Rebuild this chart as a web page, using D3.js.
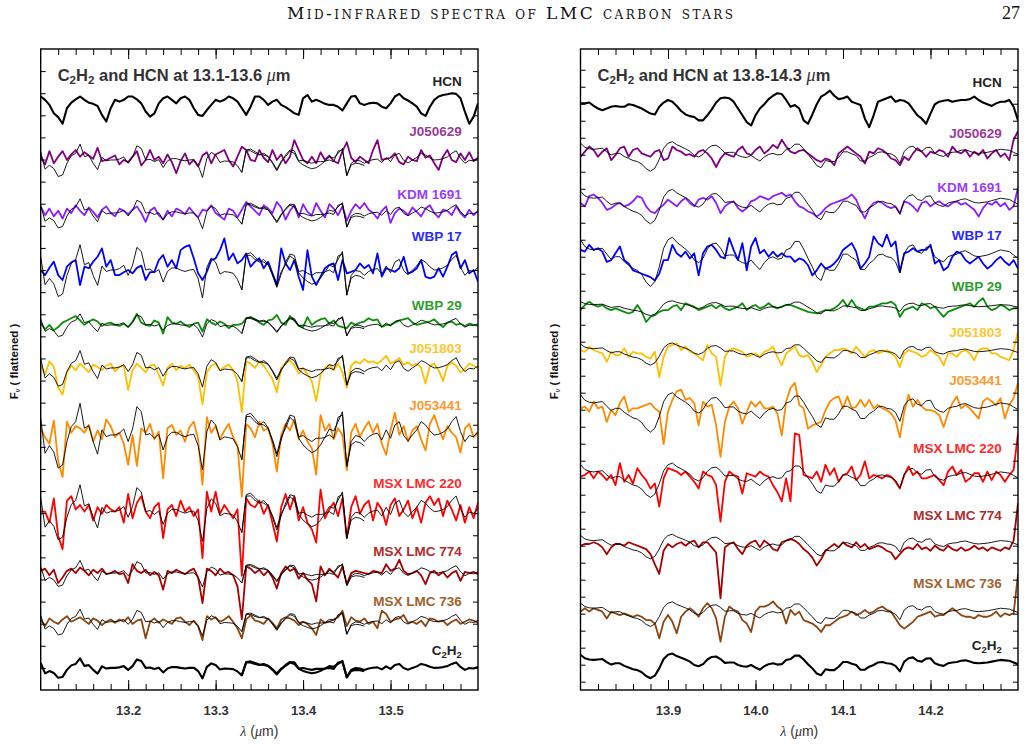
<!DOCTYPE html>
<html>
<head>
<meta charset="utf-8">
<script src="https://cdn.jsdelivr.net/npm/d3@7"></script>
<style>
  body { margin: 0; background: #fff; }
  svg { display: block; font-family: "Liberation Sans", Arial, sans-serif; }
</style>
</head>
<body>
<div id="chart"></div>
<script>
// ============================================================================
// DATA - flattened spectra, one value every 0.005 micron (deviation, tick units)
// ============================================================================

const waveStep = 0.005;
const rangeLeft = [13.1, 13.6];
const rangeRight = [13.8, 14.3];
const majorLeft = [13.2, 13.3, 13.4, 13.5];
const majorRight = [13.9, 14.0, 14.1, 14.2];

const rowNames = ['HCN', 'J050629', 'KDM 1691', 'WBP 17', 'WBP 29', 'J051803',
    'J053441', 'MSX LMC 220', 'MSX LMC 774', 'MSX LMC 736', 'C2H2'];

// vertical offset of each row (tick units)
const offsetLeft = [26.62, 23.98, 21.58, 19.0, 16.52, 14.57, 11.54, 8.07, 5.29, 3.09, 1.0];
const offsetRight = [33.82, 31.08, 28.16, 25.0, 22.06, 19.41, 16.08, 12.06, 8.1, 4.12, 1.08];

// strength of the C2H2 model drawn over each row
const modelScaleLeft = [0, 0.5, 0.45, 0.8, 0.35, 0.55, 1.0, 0.85, 0.4, 0.4, 0.3];
const modelScaleRight = [0, 0.6, 0.7, 1.0, 0.3, 0.45, 0.8, 0.7, 0.5, 0.5, 0.5];

// ---- 13.1 - 13.6 micron -----------------------------------------------------
const hcnLeft = [0.23,0.08,-0.15,-0.53,-0.7,-1.0,-0.3,-0.05,0.1,0.23,
    0.08,-0.05,-0.1,-0.2,-0.6,-0.9,-0.3,0.08,0,0.08,
    0.23,0.23,0.1,-0.08,-0.45,-0.68,-0.53,-0.08,0.15,0.23,
    0.08,-0.08,0.15,0.23,0.08,-0.3,-0.6,-0.65,-0.38,-0.15,
    0.08,0,0.08,0.23,0.15,0,-0.3,-0.6,-0.23,0.23,
    0.23,0.08,-0.15,0,0.08,-0.15,-0.25,-0.38,-0.53,-0.6,
    0.15,0.3,0,0.08,0,-0.1,-0.15,-0.15,-0.23,-0.4,
    -0.08,0.23,0.25,-0.08,-0.15,-0.08,-0.05,-0.08,-0.23,-0.3,
    -0.08,0.23,0.35,0.15,0.05,-0.08,-0.23,-0.53,-0.65,-0.23,
    0.08,0.23,0.3,0.33,0.38,0.35,0.15,-0.45,-1.0,-0.68,
    -0.08];

const modelLeft = [0.75,-0.83,-0.48,-0.78,-1.5,-1.36,-0.3,0.38,0.6,1.43,
    0.3,0.42,-0.3,-0.87,0.23,-0.08,0,0,0.08,0.27,
    -0.3,0.27,1.28,1.05,0,0.06,-0.15,0.03,-0.68,-0.08,
    0.12,0.12,0,-0.08,0,0.03,-0.48,-1.58,0.15,0.68,
    0.45,-0.23,-0.09,-0.12,-0.18,-0.53,-1.13,0.83,0.83,0.6,
    0.45,0.6,0.33,-0.3,-0.98,-0.23,0.45,0.9,0.83,-0.08,
    -0.03,-0.18,-0.3,-0.15,-0.15,-0.12,0.27,0.18,0.6,1.05,
    -1.43,-0.3,-0.03,-0.08,-0.3,-0.08,0.03,0.08,-0.23,0.23,
    -0.15,0.45,0.6,-0.03,-0.27,0,0.23,0.6,0.45,0.18,
    0,0.03,0.12,0.27,0.6,0.83,0.15,-0.3,-0.03,-0.08,
    0.15];

// second model, 13.33 - 13.47 micron only
const modelLeftBStart = 46;
const modelLeftB = [-1.1,0.9,0.98,0.75,0.5,0.45,0.3,-0.2,-0.85,-0.1,
    0.3,0.8,0.6,-0.15,-0.45,-0.65,-0.8,-0.7,-0.45,-0.1,
    0.0,-0.15,0.8,0.9,-1.4,-0.45,-0.3,-0.35,-0.5];

const j050629L = [0.15,-0.2,0.4,-0.15,0.15,0.4,0,0.25,0.45,0.15,
    0.35,0.2,0.05,0.55,-0.05,0,0.1,0.2,-0.2,0,
    -0.1,0.15,0.4,-0.25,0,0.45,0,0.15,-0.15,0.25,
    -0.1,-0.6,-0.05,0.3,-0.2,0,-0.3,0.2,0.35,-0.15,
    0.25,0.35,0.45,0,-0.3,0.15,0.6,0.45,0,-0.05,
    0.45,0.1,-0.1,0.45,0,0.25,-0.15,0.15,0.9,0.45,
    0,-0.15,0.15,-0.15,0.35,0,0.2,-0.05,-0.15,0.4,
    0.8,0.1,-0.1,0.15,0,-0.15,0.45,0.9,0,0.05,
    0.1,0.3,-0.1,-0.2,0.15,0,-0.05,0.45,0.1,0.2,
    -0.15,-0.45,0.15,0.45,0,-0.1,0.3,0,0.35,-0.05,
    0.1];

const kdm1691L = [0.3,-0.1,0.2,-0.15,0.1,-0.25,0.2,0,0.35,0.1,
    -0.1,0.25,0.05,-0.2,0.15,0.3,0,-0.15,0.2,0.1,
    -0.05,0.15,0.3,0,-0.4,0.1,0.25,-0.1,-0.3,0.1,
    -0.15,0.2,0.1,-0.05,0.25,0,-0.2,0.15,0.1,0.35,
    0,-0.15,-0.3,0.2,0.1,-0.2,0.15,0.5,0.3,0.1,
    -0.1,0.35,0.2,0,0.5,0.25,-0.3,0.1,0.35,-0.2,
    0.4,0.05,-0.1,0.45,0.1,-0.2,0.4,0.2,-0.1,0.3,
    -0.35,0.1,0.4,0.2,0.45,0.15,0,-0.25,0.1,0.3,
    -0.45,0,0.2,0.1,-0.1,0.25,0.05,-0.15,0.2,0.35,
    0,-0.2,0.15,0.1,-0.1,0.3,0,-0.2,0.15,-0.1,
    0.1];

const wbp17L = [0,-0.23,0.1,0.38,-0.23,-0.45,0.15,0.35,0.45,-0.68,
    0.15,0.08,0.38,0.6,0.98,0.15,0.45,-0.23,-0.23,-0.1,
    0,-0.15,0.1,0.2,-0.45,-0.1,-0.08,0.45,0.68,0.15,
    0.45,0.08,0.9,1.05,1.13,0.53,-0.15,-0.45,-0.08,0.45,
    0.53,0.9,1.43,0.45,0.75,0.3,0.45,0.75,0.15,0.38,
    0.53,0.08,0.38,-0.15,-0.68,0.98,0.3,0,0.45,-0.3,
    -0.9,0.9,-0.3,-0.68,-0.3,0.08,0.23,0.3,-0.45,0.45,
    -0.15,-0.08,0,0.3,0.08,0.23,-0.15,0.75,-0.3,0.08,
    0,-0.08,0.08,0.6,-0.15,-0.08,0.08,0.45,-0.3,-0.38,
    -0.3,0.08,-0.3,0.15,0.68,0.83,0.08,0.45,-0.15,0,
    -0.53];

const wbp29L = [0.08,-0.2,0,-0.25,-0.1,0.1,0.2,0.3,0.4,0.2,
    0,0.15,0.25,0.15,-0.05,0.05,0.1,0,-0.05,0.05,
    -0.1,0.15,0.5,0.1,0,-0.05,0.2,0.1,-0.4,0.35,
    0.1,0.05,0.15,0,-0.1,0.05,0.1,-0.3,0.25,0.1,
    0,0.15,0.05,-0.15,0,0,0.05,0.3,0.35,0.25,
    0.1,0,0.2,0.25,0.45,0.1,0,0.4,0.2,-0.05,
    -0.1,0.35,0,0.15,0.25,0.3,0.05,0.2,-0.05,-0.1,
    -0.15,0.1,0,0.1,0.15,0.3,0.2,0.25,-0.1,0,
    0,0.1,0.2,0.25,0.3,0.1,0,0.05,0.1,0.15,
    0.25,0.05,-0.1,0.1,0.15,0,0.05,-0.05,0.05,0,
    -0.05];

const j051803L = [0.1,-0.3,0.3,0.05,-0.9,-1.2,-0.2,0.1,-0.1,0.2,
    0,-0.2,0.15,0.05,-0.1,0.1,0.2,-0.15,0.05,0.1,
    -1.0,-0.1,0.2,0,-0.2,0.1,0.15,-0.3,-0.8,0,
    0.2,-0.1,0.1,0,0.15,-0.1,-0.4,-1.65,-0.2,0.1,
    0.2,-0.1,0.05,0.15,-0.1,-0.6,-2.0,0.3,0.2,0,
    0.3,0.1,-0.2,-0.5,-1.1,0,0.2,0.35,0.1,-0.25,
    0,-0.3,-0.6,-1.5,-0.3,0,0.15,-0.1,0.2,-0.2,
    -0.9,0.1,0.3,0.2,0.4,0.25,0.3,0.2,0.35,0.55,
    0.2,0.3,0.45,0.15,0.25,0.1,0.2,0,-0.7,0.1,
    0.2,-0.1,-0.6,0.1,0.25,0.1,-0.2,-0.05,0.2,0.1,
    0];

const j053441L = [0.3,-0.1,-0.4,0.65,-1.2,-1.9,0.6,0.1,0.4,0.3,
    0.1,0.45,-0.3,0.2,-0.2,0.7,0.4,-0.1,0.1,-0.4,
    -1.35,0,-1.4,0.3,0.1,0.5,-0.2,0.15,-1.96,0.3,
    0.45,0,0.2,-0.3,0.35,0.6,-0.2,-2.26,0.8,0.1,
    0.4,-0.2,0.2,0.5,-0.1,-0.5,-2.8,0.5,0.3,-0.1,
    0.6,0.2,0.3,-0.4,-1.66,0,0.5,0.2,0.7,-0.2,
    0.2,-0.3,-0.6,-1.8,0.9,0.2,0.5,-0.2,0.3,0,
    -1.6,0.1,0.5,-0.1,0.3,0.6,0.1,0.5,-0.4,-0.9,
    0.2,1.0,0,0.4,-0.3,0.2,0.4,-0.2,-0.7,0.5,
    0.9,0.3,-0.2,0.4,0.1,-0.1,-0.8,0.3,0.5,-0.1,
    0.1];

const msx220L = [0,0,-0.5,0.6,-1.1,-1.7,0.5,0.7,0.1,0.3,
    0,0.3,-0.4,0.2,-0.1,0.3,0.1,0,0.2,-0.5,
    0.8,-0.3,0.4,0.7,0,-0.3,0.2,0.4,-1.2,0.1,
    0.3,-0.2,0.5,0,0.2,-0.2,0.1,-2.1,0.9,0,
    0.9,-0.1,0.3,0,-0.3,0.1,-2.9,0.6,0.3,0.2,
    0.5,-0.1,0.3,-0.5,-1.35,0.2,0.8,0.1,0.7,-0.4,
    0.2,-0.5,-0.8,-1.4,1.0,-0.3,0.1,0.4,-0.2,0.6,
    -1.2,0.2,0.7,-0.1,0.3,0.5,-0.4,0.4,0.1,-0.6,
    0.3,0.6,-0.2,0.1,0.5,-0.3,0.2,-0.5,0.4,0.7,
    0.3,0.6,-0.2,0.5,0.1,-0.4,0.3,-0.5,0.2,-0.3,
    0.4];

const msx774L = [0.1,0.2,-0.1,0.15,-0.45,-0.2,0.1,0.2,0,0.25,
    0.1,-0.1,0.15,0,0.2,-0.05,0,0.1,-0.05,0,
    -0.45,0.4,0.1,0,0.15,-0.1,0.05,-0.1,-0.75,0.1,
    0,0.15,0.05,-0.05,0.1,0.2,-0.2,-1.36,0.2,0.1,
    -0.1,0.2,0,0.05,-0.1,-0.6,-2.1,0.3,0.2,0,
    0.15,-0.1,0.1,-0.2,-0.7,0,0.3,0.1,0.2,-0.25,
    0,-0.3,-0.5,-1.28,0.3,-0.1,0.2,0,-0.2,0.3,
    -0.5,0,0.1,0.05,0,-0.05,0.1,0.05,0,0.4,
    0.1,0.2,0.6,0.1,-0.05,0,0.1,-0.1,-0.5,0,
    0.1,-0.1,0.05,-0.2,0,0.1,-0.35,0.05,0,0.05,
    -0.05];

const msx736L = [0.1,-0.2,0.15,0,-0.1,0.1,0.25,0,0.1,0.2,
    0.05,-0.1,0.15,0.05,-0.15,0,0.1,-0.05,0.1,0,
    0.2,-0.1,0.05,0.1,-0.75,0,0.15,-0.05,0.1,0,
    -0.1,0.15,0.2,0,-0.15,0.05,-0.2,-0.83,0.25,0.1,
    0.2,0,0.1,0.25,0,-0.3,-0.75,0.1,0.3,0.05,
    0,-0.1,0.15,-0.05,-0.3,0.1,0.2,0.15,0.05,-0.15,
    0,-0.1,-0.3,-0.6,0.1,-0.05,0,0.1,0.2,0.5,
    -0.2,0.2,0.05,0,0.15,-0.1,0,-0.3,0.5,0.35,
    0,0.1,0.15,0.3,-0.05,0,-0.1,0.05,-0.2,0.15,
    0.1,0,0.05,-0.15,0,0.1,-0.1,0,0.1,0.05,
    -0.05];

// ---- 13.8 - 14.3 micron -----------------------------------------------------
const hcnRight = [0.2,0.2,0.25,0.05,-0.1,-0.2,-0.1,0,0.05,0,
    0,0.15,0.1,0,-0.1,-0.25,-0.4,-0.45,0,0.25,
    0.4,0.3,0.05,-0.25,-0.45,-0.55,-0.6,-0.8,-0.8,-0.5,
    -0.15,0.25,0.5,0.55,0.5,0.3,-0.1,-0.5,-0.9,-1.1,
    -0.5,-0.1,0.15,0.45,0.65,0.8,0.75,0.4,0,0.1,
    -0.1,-0.8,-1.0,-0.45,0.15,0.6,0.75,0.95,0.65,0.45,
    0.5,0.6,0.3,0.2,0.1,-0.7,-1.2,-0.5,0.3,0.4,
    0.5,0.6,0.3,0.4,0.35,0.2,-0.15,-0.5,-0.7,-1.0,
    -0.4,0.15,0.3,0.35,0.4,0.3,0.35,0.4,0.4,0.45,
    0.6,0.4,0.25,0.15,0.05,0.2,0.3,0.3,0.4,0,
    -0.8];

const modelRight = [1.0,0.6,0.45,0.4,0.45,0.5,0.15,-0.15,0,0,
    -0.3,-0.5,-0.7,-0.8,-1.05,-1.5,-1.75,-1.45,-0.6,0.5,
    1.0,1.15,0.85,0.65,0.45,0.2,-0.2,-0.35,-0.1,0.45,
    0.75,0.8,0.5,0.05,0.1,0.1,-0.2,-0.35,-0.4,-0.2,
    -0.5,-0.75,-0.35,-0.1,0,-0.15,-0.1,0.4,0.5,0.9,
    0.9,0.45,-0.1,-0.6,-1.2,-1.4,-0.7,-0.8,-0.8,-0.4,
    0.15,0.15,-0.05,-0.2,-0.75,-0.75,-0.4,-0.2,0.1,0.15,
    0,-0.05,-0.3,-0.95,0.2,0.6,0.7,0.3,0.2,0.55,
    0.6,0,-0.2,-0.3,0,0.1,0.15,0.3,0.35,0.2,
    0.05,0,0.05,0.1,0.2,0.3,0.4,0.35,0.3,0.1,
    -0.1];

const j050629R = [-0.2,0.1,0.4,0.2,-0.2,0.1,0.3,-0.4,-0.1,0.3,
    0.4,-0.2,0.2,0.3,0,-0.1,-0.2,0.1,0.2,-0.4,
    -0.3,0.4,0.2,0.1,-0.1,-0.05,-0.2,0.1,0.2,0,
    -0.3,-0.8,-0.3,0,-0.1,-0.2,0.2,0.4,0,-0.1,
    0.2,0.4,0,0.2,0.5,0.3,0.8,0.4,0.1,0,
    0.15,0.2,0,-0.2,-0.4,-0.5,-0.3,-0.4,-0.7,0,
    0.2,0.4,0.2,0,-0.2,-0.6,0.1,0,0.3,0.2,
    0,-0.3,-0.4,-0.7,-0.2,-0.4,0,0.3,0.1,-0.2,
    0.1,0,0.2,0.1,-0.2,0.4,0.1,0,0.2,-0.2,
    0.1,-0.1,0.2,-0.3,0,0.2,-0.2,0,-0.4,0.8,
    1.3];

const kdm1691R = [0,-0.2,0.4,0.5,0.3,0,-0.4,-0.3,-0.1,0,
    -0.2,-0.1,0.1,0.4,0.3,-0.2,-0.5,-0.6,-0.3,-0.1,
    0.2,0,-0.2,0.1,0.3,0,-0.2,0.2,0.3,0.2,
    0.4,0,-0.6,-0.2,0,0.1,-0.3,-0.5,-0.3,0.1,
    0.2,0.4,0.3,0.2,0.4,0.5,0.6,0.4,0.5,0.1,
    -0.2,-0.3,-0.5,-0.6,-0.8,-0.6,-0.3,-0.1,0,0.1,
    0.2,0.3,0.5,0.2,-0.4,-0.9,-0.3,0,0.1,0,
    -0.2,-0.3,-0.2,-0.6,0.1,0,-0.2,-0.5,0,0.1,
    -0.2,0,0.1,-0.1,-0.2,0,0.1,-0.1,0,-0.2,
    -0.4,-0.8,-0.3,0,-0.1,0.1,-0.2,0,-0.4,-0.2,
    0.9];

const wbp17R = [0.4,0.3,0.7,0.4,0.5,0.3,-0.3,-0.2,0.2,0.6,
    -0.2,-0.4,-0.8,-0.9,-1.0,-1.1,-1.2,-1.4,-1.0,-0.2,
    -0.2,0.7,0.2,0,0.3,-0.1,0.2,-1.1,0.2,0.6,
    0.7,0.4,0,-0.1,1.1,0.4,-0.2,0.8,-0.8,0.6,
    1.1,0.2,0.4,0,0.3,0,0.2,0,0,-0.3,
    -0.1,-0.2,-0.5,-1.1,-0.8,-0.4,-0.7,-0.6,-0.4,-0.1,
    0.4,0.6,0.8,0.3,-0.7,-0.4,0,1.2,0.8,0.6,
    1.3,0.6,0.9,-0.9,0.2,0.3,0.5,0.3,0.4,0.4,
    0.7,-0.4,-0.2,-0.8,-0.6,0,0.3,0.2,-0.2,-0.4,
    -0.2,0,-0.4,-0.7,-0.5,-0.2,0,-0.3,-0.5,-0.2,
    -0.7];

const wbp29R = [-0.2,0.1,0.3,0.1,0,0.1,-0.1,-0.2,-0.1,-0.2,
    -0.3,-0.4,-0.3,0.1,-0.3,-0.9,-0.6,-0.5,-0.3,-0.2,
    -0.2,0,0.1,-0.2,0.2,0.1,0,-0.2,-0.1,0,
    0.1,-0.1,0.1,-0.1,-0.2,-0.1,0,0.2,-0.2,0,
    0.1,-0.1,0,0.2,0,-0.1,0,0.1,0.1,0,
    -0.1,-0.2,-0.3,-0.35,-0.4,-0.3,-0.2,-0.2,-0.1,0.1,
    0.4,0,0.4,0,-0.1,-0.2,0,0,0.1,0.2,
    0.2,0.3,0.1,-0.6,-0.2,-0.1,0,-0.2,0.2,0.1,
    -0.1,0,-0.3,-0.6,-0.3,-0.2,-0.1,0,0.1,0.2,
    0,0.3,0.5,0,-0.2,-0.1,0.1,0,-0.2,-0.1,
    -0.1];

const j051803R = [0.1,0,0.3,0.1,0,-0.1,-0.6,0,-0.2,-0.2,
    0.2,-0.3,0,-0.1,-0.1,-0.3,-0.4,0,-1.5,-0.3,
    0.3,0.4,0.5,0.1,0.3,0,-0.1,-0.3,-0.5,0.4,
    -0.1,-0.3,-2.0,-0.3,0.1,0.2,0.1,0,-0.3,-0.2,
    -0.1,-0.3,0,0.1,0.3,-0.3,-0.8,-0.1,0.1,0.3,
    -0.2,-0.3,-0.2,-0.6,-1.2,-0.8,-0.3,-0.1,0.1,0.1,
    0.2,0.1,-0.1,0.3,0,-0.3,0,0.1,-0.1,0,
    0.1,-0.1,-0.3,-0.9,-0.1,0.1,0,-0.1,-0.3,-0.2,
    0.1,-0.1,-0.3,-0.8,-0.1,-0.1,-0.3,0,0.1,-0.1,
    -0.5,0.1,0.2,0.2,-0.1,-0.1,-0.3,-0.4,-0.5,0.1,
    1.2];

const j053441R = [0,0.1,-0.2,0.4,0,0.1,-0.8,-0.1,-0.4,0.3,
    0.7,-0.2,0,0,0.1,0.2,0.3,0,-0.2,-2.1,
    -0.2,0.5,1.0,1.1,0.5,0.6,0.3,-1.0,0.4,0.1,
    0.2,-1.0,-2.85,-0.8,0.1,0.4,0,-0.9,-0.2,0.4,
    0.1,0.4,0,0,0.1,-0.3,-1.6,0.4,1.2,1.5,
    0.2,0,-1.2,-1.0,-0.9,-0.8,-0.1,0.4,0.6,0.7,
    0,0.7,0,0.1,0.5,0.1,0.5,0,0.2,0,
    -0.1,-0.3,-0.7,-1.7,-0.2,0.8,0.1,0.5,0.1,-0.1,
    -0.1,-0.2,-0.4,-1.1,-0.3,0.3,0.7,0,0.2,0,
    -0.3,-0.6,0.4,0.6,0.4,0.2,0.6,-0.6,0.2,0.6,
    1.5];

const msx220R = [0,0.1,0.3,-0.1,0.3,0.1,-0.2,0.1,-0.5,0.8,
    -0.3,0.1,-0.4,0.5,0.1,-0.2,-0.7,-0.4,-1.76,-0.1,
    0.5,0.4,0.3,0.1,0.3,0,-0.3,-0.7,0.3,0.1,
    0,-0.5,-2.65,-0.3,0.3,0.1,0,-1.0,0.2,0.1,
    0,0.3,0.1,0,-0.5,-0.9,-1.45,-0.1,-1.45,2.55,
    2.45,0.1,0,-0.1,0.3,-0.3,0.7,0.1,0.5,-0.3,
    0.1,0.2,0.6,-0.2,0.1,0.9,-0.1,0.1,0,-0.1,
    0.1,0,-0.3,-0.7,0.1,0.6,0.1,0.3,-0.1,-0.1,
    0,0.1,-0.2,-0.5,0.3,0.6,0.1,0.4,-0.3,-0.1,
    0.2,0.2,-0.3,0.3,-0.2,0.3,0.1,-0.3,0.1,0.4,
    2.55];

const msx774R = [-0.1,0,0,0.1,0,-0.2,-0.6,-0.2,0,0,
    -0.1,0.1,0,-0.1,-0.2,-0.3,-0.6,-1.2,-1.76,-0.4,
    0,-0.2,0,0.1,-0.1,0.1,0.2,-0.2,0.1,0.1,
    -0.2,-0.5,-3.2,-0.2,0,0.1,-0.3,-0.6,-0.1,0.1,
    0.2,-0.2,0.2,0,-0.3,-0.4,0.1,0.2,0.3,0.2,
    0,-0.3,-0.5,-0.8,-1.27,-0.9,-0.4,-0.2,0,-0.2,
    0.1,-0.1,-0.2,0.1,-0.2,0,-0.3,-0.2,-0.1,-0.2,
    -0.4,-0.5,-0.9,-0.6,-0.3,-0.2,-0.3,0,-0.3,-0.2,
    -0.4,-0.1,-0.3,-0.4,-0.1,-0.3,-0.4,-0.2,-0.4,-0.3,
    -0.1,-0.3,-0.2,-0.4,-0.2,-0.3,-0.4,-0.2,-0.3,0.2,
    2.4];

const msx736R = [0,0.2,0,0.2,0.1,0,-0.4,0,-0.1,-0.2,
    -0.1,-0.2,-0.3,-0.2,-0.3,-0.5,-0.5,-0.7,-1.57,-0.6,
    -0.2,-0.6,-1.27,-0.3,0,0.2,0,-0.3,0.2,0.5,
    0.2,-0.4,-1.76,-0.3,0.3,0.1,0,-0.5,-0.7,-1.2,
    0,0.3,0.3,0.4,0.6,0.3,0.1,-0.7,0.1,-0.2,
    0,-0.5,-0.6,-0.7,-0.9,-1.2,-0.8,-0.8,-0.6,-0.4,
    -0.3,-0.2,0,-0.2,-0.1,0.1,-0.1,0,0.2,0.3,
    0.1,0,-0.4,-0.8,-1.0,-0.8,-0.6,-0.3,-0.2,-0.1,
    0,-0.3,-0.2,-0.2,0,0.2,0,-0.2,-0.3,-0.3,
    -0.4,-0.2,-0.3,-0.3,-0.2,0,-0.3,-0.1,-0.2,-0.1,
    2.2];

const starsLeft = [null, j050629L, kdm1691L, wbp17L, wbp29L, j051803L, j053441L, msx220L, msx774L, msx736L, null];
const starsRight = [null, j050629R, kdm1691R, wbp17R, wbp29R, j051803R, j053441R, msx220R, msx774R, msx736R, null];

// ============================================================================
// STYLE / LAYOUT
// ============================================================================

const lineColors = ['#000', '#800080', '#8a1cff', '#0000ff', '#0b8c0b', '#ffc000',
    '#ff8a00', '#ff0000', '#a80000', '#8b4513', '#000'];
const labelColors = ['#222', '#9b3b9b', '#9a3dff', '#2b2bff', '#2f9e2f', '#ffc630',
    '#ff9a30', '#ff2b2b', '#b02c2c', '#a0622e', '#222'];
const labelLiftLeft = [0.9, 1.28, 0.86, 1.54, 0.9, 0.91, 1.36, 1.3, 1.0, 0.91, 0.81];
const labelLiftRight = [1.47, 1.21, 0.92, 1.28, 1.22, 1.12, 1.67, 1.7, 1.66, 1.67, 1.08];

const W = 1034, H = 744;
const TOP = 49, BOTTOM = 690;

const svg = d3.select('#chart').append('svg')
    .attr('width', W)
    .attr('height', H);

// Page header
svg.append('text')
    .attr('x', 287).attr('y', 19)
    .attr('textLength', 446)
    .attr('lengthAdjust', 'spacing')
    .style('font-family', '"DejaVu Serif", "Liberation Serif", serif')
    .style('font-variant', 'small-caps')
    .style('font-size', '17px')
    .attr('fill', '#111')
    .text('Mid-infrared spectra of LMC carbon stars');

svg.append('text')
    .attr('x', 1020).attr('y', 19)
    .attr('text-anchor', 'end')
    .style('font-family', '"Liberation Serif", "DejaVu Serif", serif')
    .style('font-size', '18px')
    .attr('fill', '#111')
    .text('27');

// writes "C2H2" style text with subscripts into a text selection
function chem(sel, str) {
    const parts = str.match(/[A-Za-z ]+|\d+/g) || [];
    let sub = false;
    parts.forEach(p => {
        const isNum = /^\d+$/.test(p);
        const t = sel.append('tspan').text(p);
        if (isNum && !sub) { t.attr('dy', 3).style('font-size', '70%'); sub = true; }
        else if (!isNum && sub) { t.attr('dy', -3); sub = false; }
        else if (isNum) t.style('font-size', '70%');
    });
    return sub;
}

function drawPanel(cfg) {
    const x = d3.scaleLinear().domain(cfg.range).range([cfg.x0, cfg.x1]);
    const y = d3.scaleLinear().domain(cfg.yDomain).range([BOTTOM, TOP]);
    const lam = i => cfg.range[0] + i * waveStep;

    const g = svg.append('g');

    const clipId = 'clip-' + cfg.key;
    svg.append('clipPath').attr('id', clipId)
        .append('rect')
        .attr('x', cfg.x0).attr('y', TOP)
        .attr('width', cfg.x1 - cfg.x0).attr('height', BOTTOM - TOP);

    const plot = g.append('g').attr('clip-path', `url(#${clipId})`);

    const lineFor = (base, k, start = 0) => d3.line()
        .x((d, i) => x(lam(i + start)))
        .y(d => y(base + k * d));

    rowNames.forEach((name, r) => {
        const base = cfg.offsets[r];
        const k = cfg.modelScale[r];
        const star = cfg.stars[r];

        if (r === 0) {
            plot.append('path')
                .datum(cfg.hcn)
                .attr('fill', 'none')
                .attr('stroke', '#000')
                .attr('stroke-width', 2.1)
                .attr('stroke-linejoin', 'round')
                .attr('d', lineFor(base, 1));
        }

        if (star) {
            plot.append('path')
                .datum(star)
                .attr('fill', 'none')
                .attr('stroke', lineColors[r])
                .attr('stroke-width', 1.8)
                .attr('stroke-linejoin', 'round')
                .attr('d', lineFor(base, 1));
        }

        if (k > 0) {
            const thick = r === rowNames.length - 1;
            plot.append('path')
                .datum(cfg.model)
                .attr('fill', 'none')
                .attr('stroke', '#000')
                .attr('stroke-width', thick ? 2.1 : 0.9)
                .attr('stroke-linejoin', 'round')
                .attr('d', lineFor(base, k));
            if (cfg.modelB) {
                plot.append('path')
                    .datum(cfg.modelB)
                    .attr('fill', 'none')
                    .attr('stroke', '#000')
                    .attr('stroke-width', thick ? 2.1 : 0.9)
                    .attr('stroke-linejoin', 'round')
                    .attr('d', lineFor(base, k, cfg.modelBStart));
            }
        }

        // Row label
        const label = g.append('text')
            .attr('x', cfg.labelX)
            .attr('y', y(base + cfg.labelLift[r]))
            .attr('dy', '0.35em')
            .attr('text-anchor', 'end')
            .attr('fill', labelColors[r])
            .style('font-size', '13.5px')
            .style('font-weight', 'bold');
        if (name === 'C2H2') chem(label, name);
        else label.text(name);
    });

    // Panel title
    const title = g.append('text')
        .attr('x', cfg.x0 + 17)
        .attr('y', 81)
        .attr('fill', '#333')
        .style('font-size', '16.5px')
        .style('font-weight', 'bold');
    chem(title, 'C2H2');
    title.append('tspan').attr('dy', -3).text(` and HCN at ${cfg.titleRange} `);
    title.append('tspan')
        .style('font-family', '"Liberation Serif", serif')
        .style('font-style', 'italic')
        .style('font-weight', 'normal')
        .style('font-size', '18px')
        .text('\u03bc');
    title.append('tspan').text('m');

    // Ticks (inward)
    const minor = d3.range(1, 25).map(k => cfg.range[0] + k * 0.02);
    const tickStyle = sel => {
        sel.select('.domain').remove();
        sel.selectAll('line').attr('stroke', '#000').attr('stroke-width', 1);
    };

    g.append('g').attr('transform', `translate(0,${BOTTOM})`)
        .call(d3.axisBottom(x).tickValues(minor).tickSize(-6).tickFormat(''))
        .call(tickStyle);
    g.append('g').attr('transform', `translate(0,${TOP})`)
        .call(d3.axisTop(x).tickValues(minor).tickSize(-6).tickFormat(''))
        .call(tickStyle);
    g.append('g').attr('transform', `translate(0,${TOP})`)
        .call(d3.axisTop(x).tickValues(cfg.majors).tickSize(-10).tickFormat(''))
        .call(tickStyle);

    const bottomAxis = g.append('g').attr('transform', `translate(0,${BOTTOM})`)
        .call(d3.axisBottom(x).tickValues(cfg.majors).tickSize(-10).tickPadding(16)
            .tickFormat(d3.format('.1f')))
        .call(tickStyle);
    bottomAxis.selectAll('text')
        .attr('fill', '#333')
        .style('font-family', '"Liberation Sans", Arial, sans-serif')
        .style('font-size', '13px')
        .style('font-weight', 'bold');

    g.append('g').attr('transform', `translate(${cfg.x0},0)`)
        .call(d3.axisLeft(y).tickValues(cfg.yTicks).tickSize(-5).tickFormat(''))
        .call(tickStyle);
    g.append('g').attr('transform', `translate(${cfg.x1},0)`)
        .call(d3.axisRight(y).tickValues(cfg.yTicks).tickSize(-5).tickFormat(''))
        .call(tickStyle);

    // Frame
    g.append('rect')
        .attr('x', cfg.x0).attr('y', TOP)
        .attr('width', cfg.x1 - cfg.x0).attr('height', BOTTOM - TOP)
        .attr('fill', 'none')
        .attr('stroke', '#000')
        .attr('stroke-width', 1.4);

    // X label
    const xl = g.append('text')
        .attr('x', (cfg.x0 + cfg.x1) / 2)
        .attr('y', 736)
        .attr('text-anchor', 'middle')
        .attr('fill', '#333')
        .style('font-size', '14px');
    xl.append('tspan')
        .style('font-family', '"Liberation Serif", serif')
        .style('font-style', 'italic')
        .text('\u03bb');
    xl.append('tspan').text(' (');
    xl.append('tspan')
        .style('font-family', '"Liberation Serif", serif')
        .style('font-style', 'italic')
        .text('\u03bc');
    xl.append('tspan').text('m)');

    // Y label
    const yl = g.append('text')
        .attr('transform', `translate(${cfg.x0 - 23},${(TOP + BOTTOM) / 2 - 8}) rotate(-90)`)
        .attr('text-anchor', 'middle')
        .attr('fill', '#111')
        .style('font-size', '11.5px')
        .style('font-weight', 'bold');
    yl.append('tspan').text('F');
    yl.append('tspan').attr('dy', 2.5)
        .style('font-size', '7px')
        .style('font-style', 'italic')
        .style('font-weight', 'normal')
        .text('\u03bd');
    yl.append('tspan').attr('dy', -2.5).text(' ( flattened )');
}

drawPanel({
    key: 'left',
    range: rangeLeft,
    majors: majorLeft,
    x0: 40.7, x1: 478,
    yDomain: [0, 29],
    yTicks: d3.range(1, 29),
    offsets: offsetLeft,
    modelScale: modelScaleLeft,
    stars: starsLeft,
    hcn: hcnLeft,
    model: modelLeft,
    modelB: modelLeftB,
    modelBStart: modelLeftBStart,
    labelX: 461.7,
    labelLift: labelLiftLeft,
    titleRange: '13.1-13.6'
});

drawPanel({
    key: 'right',
    range: rangeRight,
    majors: majorRight,
    x0: 580.5, x1: 1018,
    yDomain: [-0.49, 37.22],
    yTicks: d3.range(0, 37),
    offsets: offsetRight,
    modelScale: modelScaleRight,
    stars: starsRight,
    hcn: hcnRight,
    model: modelRight,
    modelB: null,
    modelBStart: 0,
    labelX: 1001.7,
    labelLift: labelLiftRight,
    titleRange: '13.8-14.3'
});
</script>
</body>
</html>
